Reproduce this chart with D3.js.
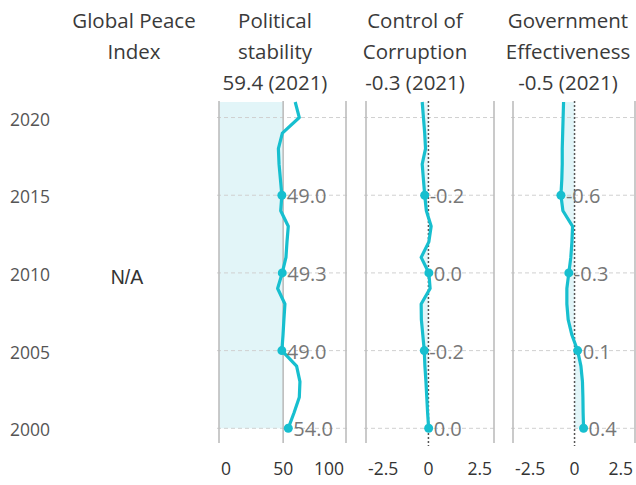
<!DOCTYPE html>
<html>
<head>
<meta charset="utf-8">
<script src="https://cdn.jsdelivr.net/npm/d3@7"></script>
<style>
  html, body { margin: 0; padding: 0; background: #fff; }
  svg { display: block; font-family: "Open Sans", sans-serif; }
</style>
</head>
<body>
<svg id="chart" width="636" height="485"></svg>
<script>
// ---------- data ----------
const years = [2000, 2001, 2002, 2003, 2004, 2005, 2006, 2007, 2008, 2009, 2010,
               2011, 2012, 2013, 2014, 2015, 2016, 2017, 2018, 2019, 2020, 2021];
const politicalStability = [54.0, 58.5, 62.6, 63.1, 60.5, 49.0, 49.9, 50.6, 51.4, 45.7, 49.3,
                            52.2, 53.0, 54.0, 48.1, 49.0, 47.9, 46.8, 46.3, 49.4, 62.6, 59.4];
const controlOfCorruption = [0.01, -0.04, -0.08, -0.12, -0.17, -0.2, -0.27, -0.34, -0.35, 0.08, 0.02,
                             -0.35, 0.02, 0.13, -0.1, -0.18, -0.24, -0.3, -0.14, -0.18, -0.24, -0.3];
const governmentEffectiveness = [0.41, 0.39, 0.38, 0.36, 0.29, 0.14, -0.12, -0.29, -0.35, -0.35, -0.26,
                                 -0.17, -0.12, -0.09, -0.53, -0.62, -0.58, -0.56, -0.56, -0.54, -0.52, -0.5];
const labelYears = [2000, 2005, 2010, 2015];
const yearTicks = [2000, 2005, 2010, 2015, 2020];
const politicalTicks = [0, 50, 100];
const wgiTicks = [-2.5, 0, 2.5];
const politicalBand = [0, 50];
const headerGPI = ["Global Peace", "Index"];
const headerPS = ["Political", "stability"];
const headerCC = ["Control of", "Corruption"];
const headerGE = ["Government", "Effectiveness"];
const gpiValue = "N/A";

// ---------- layout ----------
const svg = d3.select("#chart");
const y = d3.scaleLinear().domain([2000, 2021]).range([428.3, 102]);
const yTop = 101, yBot = 443;
const lineColor = "#17bfcf";
const areaColor = "#e2f5f8";

const panels = [
  { values: politicalStability, header: headerPS, hx: 275, x: d3.scaleLinear().domain([0, 99]).range([219, 346]),
    ticks: politicalTicks, ref: 50, refType: "solid", band: politicalBand },
  { values: controlOfCorruption, header: headerCC, hx: 415, x: d3.scaleLinear().domain([-3.0, 3.15]).range([366, 494]),
    ticks: wgiTicks, ref: 0, refType: "dotted" },
  { values: governmentEffectiveness, header: headerGE, hx: 568, x: d3.scaleLinear().domain([-2.8, 2.75]).range([513, 635]),
    ticks: wgiTicks, ref: 0, refType: "dotted" }
];

// ---------- headers ----------
function header(lines, cx) {
  const t = svg.append("text").attr("text-anchor", "middle").attr("fill", "#3a3a3a")
    .style("font-size", "20.5px");
  lines.forEach((s, i) => t.append("tspan").attr("x", cx).attr("y", 27.5 + i * 31).text(s));
}
header(headerGPI, 134);
panels.forEach(p => {
  const last = p.values[p.values.length - 1];
  const lastYear = years[years.length - 1];
  header([...p.header, `${last.toFixed(1)} (${lastYear})`], p.hx);
});

// ---------- year axis ----------
svg.append("g").selectAll("text").data(yearTicks).join("text")
  .attr("x", 10).attr("y", d => y(d) + 2).attr("dy", "0.35em")
  .attr("fill", "#555").style("font-size", "17.5px").text(d => d);

// GPI N/A
svg.append("text").attr("x", 127).attr("y", y(2010) + 4).attr("dy", "0.35em")
  .attr("text-anchor", "middle").attr("fill", "#333")
  .style("font-family", "'Liberation Sans', Arial, sans-serif").style("font-size", "19.5px")
  .text(gpiValue);

// ---------- panels ----------
panels.forEach(p => {
  const g = svg.append("g");
  const x = p.x;
  const [x0, x1] = x.range();
  const data = years.map((yr, i) => ({ year: yr, v: p.values[i] }));

  if (p.band) {
    g.append("rect").attr("x", x(p.band[0])).attr("y", y(2021))
      .attr("width", x(p.band[1]) - x(p.band[0])).attr("height", y(2000) - y(2021))
      .attr("fill", areaColor);
  } else {
    g.append("path").datum(data)
      .attr("d", d3.area().y(d => y(d.year)).x0(x(p.ref)).x1(d => x(d.v)))
      .attr("fill", areaColor);
  }

  // grid
  g.selectAll(".grid").data(yearTicks).join("line")
    .attr("x1", x0 - 2).attr("x2", x1 + 1).attr("y1", d => y(d)).attr("y2", d => y(d))
    .attr("stroke", "#d0d0d0").attr("stroke-width", 1).attr("stroke-dasharray", "4,3");

  // borders
  [x0, x1].forEach(xx => g.append("line").attr("x1", xx).attr("x2", xx)
    .attr("y1", yTop).attr("y2", yBot).attr("stroke", "#bdbdbd").attr("stroke-width", 1.6));

  // reference line
  if (p.refType === "solid") {
    g.append("line").attr("x1", x(p.ref)).attr("x2", x(p.ref)).attr("y1", yTop).attr("y2", yBot)
      .attr("stroke", "#bdbdbd").attr("stroke-width", 1.6);
  } else {
    g.append("line").attr("x1", x(p.ref)).attr("x2", x(p.ref)).attr("y1", yTop).attr("y2", yBot + 3)
      .attr("stroke", "#555").attr("stroke-width", 1.5).attr("stroke-dasharray", "2,2");
  }

  // line
  g.append("path").datum(data)
    .attr("d", d3.line().x(d => x(d.v)).y(d => y(d.year)))
    .attr("fill", "none").attr("stroke", lineColor).attr("stroke-width", 3.2)
    .attr("stroke-linejoin", "round");

  const lab = data.filter(d => labelYears.includes(d.year));
  g.selectAll(".pt").data(lab).join("circle")
    .attr("cx", d => x(d.v)).attr("cy", d => y(d.year)).attr("r", 4.5).attr("fill", lineColor);
  g.selectAll(".lbl").data(lab).join("text")
    .attr("x", d => x(d.v) + 5).attr("y", d => y(d.year) + 1).attr("dy", "0.35em")
    .attr("fill", "#777").style("font-size", "20px")
    .text(d => d.v.toFixed(1));

  // bottom tick labels (kept inside the pane)
  const tg = g.append("g");
  p.ticks.forEach(t => {
    const txt = tg.append("text").attr("x", x(t)).attr("y", 469).attr("dy", "0.35em")
      .attr("text-anchor", "middle").attr("fill", "#333").style("font-size", "17.5px")
      .text(String(t));
    const w = txt.node().getComputedTextLength();
    let cx = x(t);
    if (cx - w / 2 < x0 + 2) cx = x0 + 2 + w / 2;
    if (cx + w / 2 > x1 - 2) cx = x1 - 2 - w / 2;
    txt.attr("x", cx);
  });
});
</script>
</body>
</html>
